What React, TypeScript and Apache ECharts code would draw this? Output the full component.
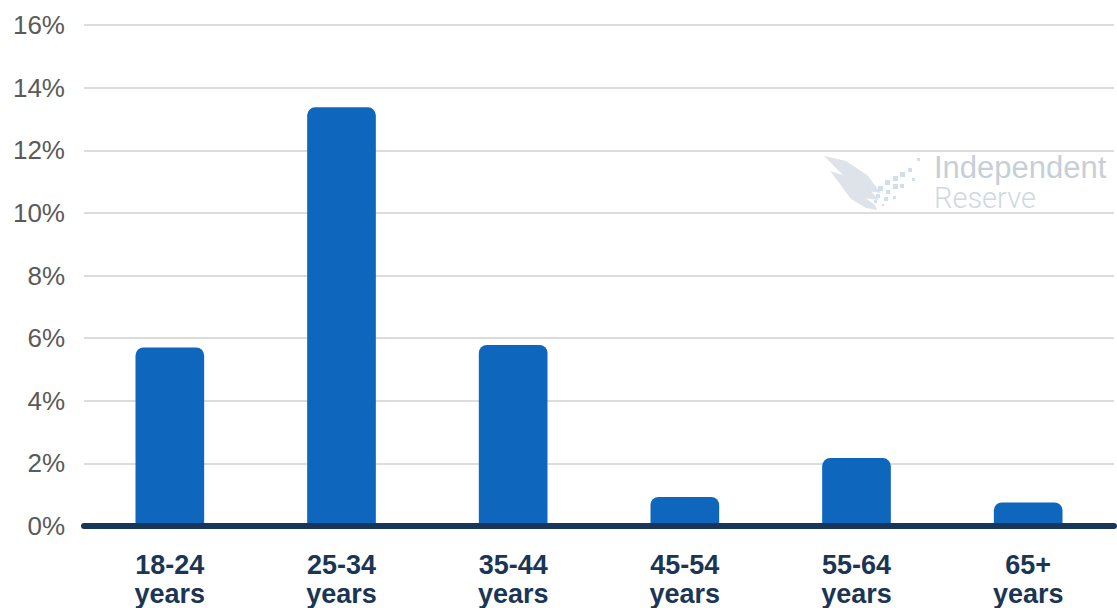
import React, { useEffect, useRef } from "react";
import * as echarts from "echarts";

const categories = ["18-24\nyears", "25-34\nyears", "35-44\nyears", "45-54\nyears", "55-64\nyears", "65+\nyears"];
const shares = [5.7, 13.37, 5.78, 0.93, 2.17, 0.75];
const yTicks = [0, 2, 4, 6, 8, 10, 12, 14, 16];

const FONT = "'Liberation Sans', Arial, Helvetica, sans-serif";
const WING = "#dde3e8";
const PIXEL = "#cfdfec";

// small squares of the logo mark, [x, y, size]
const logoPixels: [number, number, number][] = [
  [917, 158, 3], [908, 168, 4], [900, 172, 5], [893, 176, 5], [912, 178, 3],
  [885, 180, 5], [893, 184, 5], [900, 184, 4], [878, 186, 5], [886, 190, 4],
  [876, 194, 4], [884, 197, 4], [893, 196, 3], [874, 200, 3], [882, 204, 2],
];

export default function App() {
  const ref = useRef<HTMLDivElement>(null);

  useEffect(() => {
    const chart = echarts.init(ref.current!, null, { renderer: "svg" });
    chart.setOption({
      animation: false,
      backgroundColor: "#ffffff",
      grid: { left: 84, right: 3, top: 25, bottom: 78.5, containLabel: false },
      xAxis: {
        type: "category",
        data: categories,
        axisTick: { show: false },
        axisLine: { show: false },
        axisLabel: {
          margin: 24,
          color: "#1b3555",
          fontFamily: FONT,
          fontSize: 27,
          fontWeight: "bold",
          lineHeight: 29,
          interval: 0,
        },
      },
      yAxis: {
        type: "value",
        min: yTicks[0],
        max: yTicks[yTicks.length - 1],
        interval: 2,
        axisLine: { show: false },
        axisTick: { show: false },
        splitLine: { lineStyle: { color: "#dcdcdc", width: 2 } },
        axisLabel: {
          margin: 19,
          color: "#5a5a5a",
          fontFamily: FONT,
          fontSize: 26,
          formatter: (v: number) => `${v}%`,
        },
      },
      series: [
        {
          type: "bar",
          data: shares,
          barWidth: "40%",
          itemStyle: { color: "#0f67bd", borderRadius: [8, 8, 0, 0] },
          markLine: {
            silent: true,
            symbol: "none",
            label: { show: false },
            lineStyle: { color: "#17365a", width: 6, type: "solid", cap: "round" },
            data: [{ yAxis: 0 }],
          },
        },
      ],
      graphic: [
        {
          type: "group",
          silent: true,
          children: [
            {
              type: "polygon",
              shape: { points: [[824, 156], [846, 161], [867, 175], [881, 193], [868, 191], [845, 177]] },
              style: { fill: WING },
            },
            {
              type: "polygon",
              shape: { points: [[830, 171], [852, 178], [871, 191], [879, 200], [862, 198], [843, 188]] },
              style: { fill: WING },
            },
            {
              type: "polygon",
              shape: { points: [[842, 187], [860, 194], [875, 205], [877, 210], [866, 208], [851, 199]] },
              style: { fill: WING },
            },
            ...logoPixels.map(([x, y, s]) => ({
              type: "rect",
              shape: { x, y, width: s, height: s },
              style: { fill: PIXEL },
            })),
            {
              type: "text",
              x: 934,
              y: 155,
              style: {
                text: "Independent",
                fill: "#c6cfd7",
                fontFamily: FONT,
                fontSize: 31,
                lineHeight: 24,
                verticalAlign: "top",
              },
            },
            {
              type: "text",
              x: 934,
              y: 187,
              style: {
                text: "Reserve",
                fill: "#d0d8df",
                fontFamily: `Roboto, ${FONT}`,
                fontWeight: 300,
                fontSize: 29,
                lineHeight: 22,
                verticalAlign: "top",
              },
            },
          ],
        },
      ],
    });
    return () => chart.dispose();
  }, []);

  return (
    <div
      ref={ref}
      style={{ position: "fixed", left: 0, top: 0, width: 1117, height: 608, background: "#fff" }}
    />
  );
}
